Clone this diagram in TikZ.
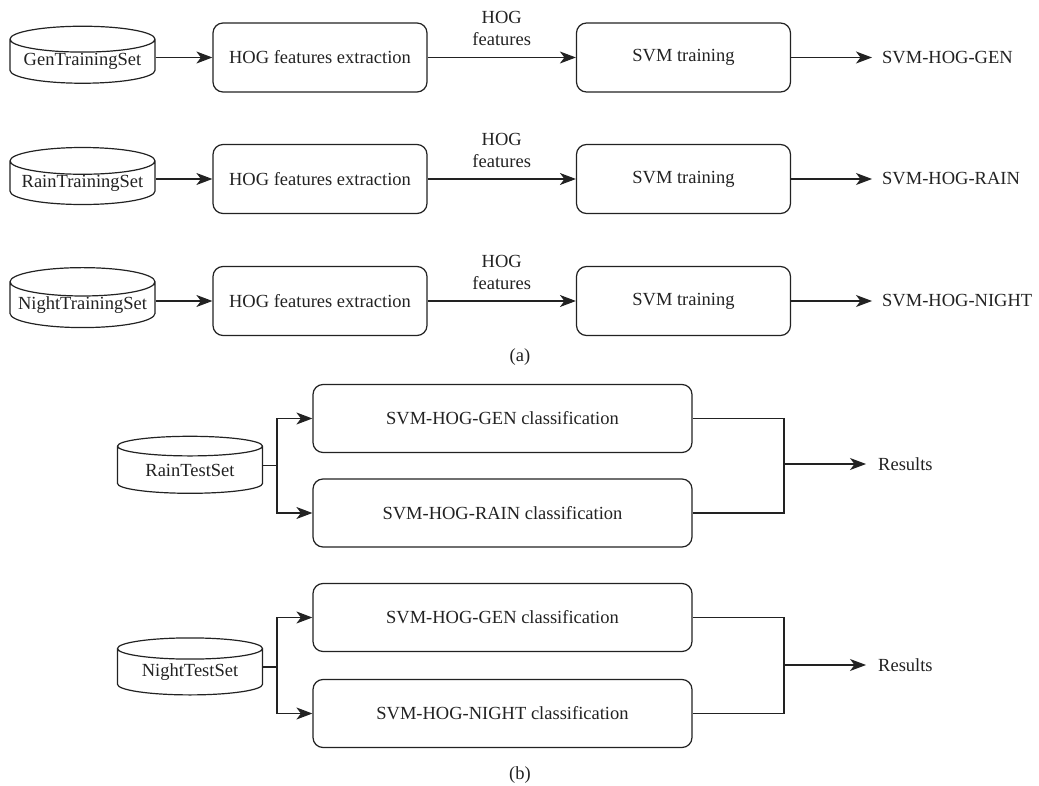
\documentclass[tikz,border=0pt]{standalone}
\usepackage{fontspec}
\setmainfont{Liberation Serif}
\usetikzlibrary{arrows.meta,shapes.geometric}
\definecolor{ink}{HTML}{222222}
\newcommand{\lbl}{\fontsize{18.5}{22}\selectfont}
\tikzset{
  db/.style={cylinder, shape border rotate=90, aspect=0.22, draw=ink, line width=1.2pt,
    minimum width=145pt, minimum height=57pt, inner sep=0pt, text=ink, font=\lbl},
  proc/.style={draw=ink, line width=1.2pt, rounded corners=10pt, minimum width=214pt,
    minimum height=69pt, inner sep=0pt, text=ink, font=\lbl},
  wide/.style={proc, minimum width=379pt, minimum height=68pt},
  link/.style={draw=ink, line width=1.2pt},
  arr/.style={link, -{Stealth[length=16pt,width=12pt,inset=4.5pt]}},
  result/.style={anchor=west, inner sep=0pt, text=ink, font=\lbl},
  note/.style={above=11pt, align=center, inner sep=0pt, text=ink, font=\lbl},
  sublab/.style={inner sep=0pt, text=ink, font=\lbl},
}

\begin{document}
\begin{tikzpicture}[x=1pt,y=-1pt]
  \useasboundingbox (0,0) rectangle (1039,786);
  % (a) training
  \foreach \nm/\pre/\suf/\y in {gen/Gen/GEN/57.5, rain/Rain/RAIN/179, night/Night/NIGHT/301} {
    \node[db] (\nm-db) at (82.5,\y+4) {\pre TrainingSet};
    \node[proc] (\nm-hog) at (320,\y) {HOG features extraction};
    \node[proc] (\nm-svm) at (683.5,\y) {SVM training};
    \node[result] (\nm-res) at (882,\y) {SVM-HOG-\suf};
    \draw[arr] (\nm-db.east |- \nm-hog.west) -- (\nm-hog.west);
    \draw[arr] (\nm-hog.east) -- node[note] {HOG\\features} (\nm-svm.west);
    \draw[arr, shorten >=10pt] (\nm-svm.east) -- (\nm-res.west);
  }
  \node[sublab] (la) at (520,357) {(a)};
  % (b) testing, rain
  \node[db] (rt-db) at (190,470) {RainTestSet};
  \node[wide] (rt-gen) at (502.5,418.5) {SVM-HOG-GEN classification};
  \node[wide] (rt-rain) at (502.5,513) {SVM-HOG-RAIN classification};
  \coordinate (rt-fork) at (277,465.5);
  \coordinate (rt-join) at (784,464);
  \node[result] (rt-res) at (878,464) {Results};
  \draw[link] (rt-db.east |- rt-fork) -- (rt-fork);
  \draw[arr] (rt-fork) |- (rt-gen.west);
  \draw[arr] (rt-fork) |- (rt-rain.west);
  \draw[link] (rt-gen.east) -| (rt-join) |- (rt-rain.east);
  \draw[arr, shorten >=12pt] (rt-join) -- (rt-res.west);
  % (b) testing, night
  \node[db] (nt-db) at (190,672) {NightTestSet};
  \node[wide] (nt-gen) at (502.5,617.5) {SVM-HOG-GEN classification};
  \node[wide] (nt-night) at (502.5,713.5) {SVM-HOG-NIGHT classification};
  \coordinate (nt-fork) at (277,667);
  \coordinate (nt-join) at (784,665);
  \node[result] (nt-res) at (878,665) {Results};
  \draw[link] (nt-db.east |- nt-fork) -- (nt-fork);
  \draw[arr] (nt-fork) |- (nt-gen.west);
  \draw[arr] (nt-fork) |- (nt-night.west);
  \draw[link] (nt-gen.east) -| (nt-join) |- (nt-night.east);
  \draw[arr, shorten >=12pt] (nt-join) -- (nt-res.west);
  \node[sublab] (lb) at (520,775) {(b)};
\end{tikzpicture}
\end{document}
